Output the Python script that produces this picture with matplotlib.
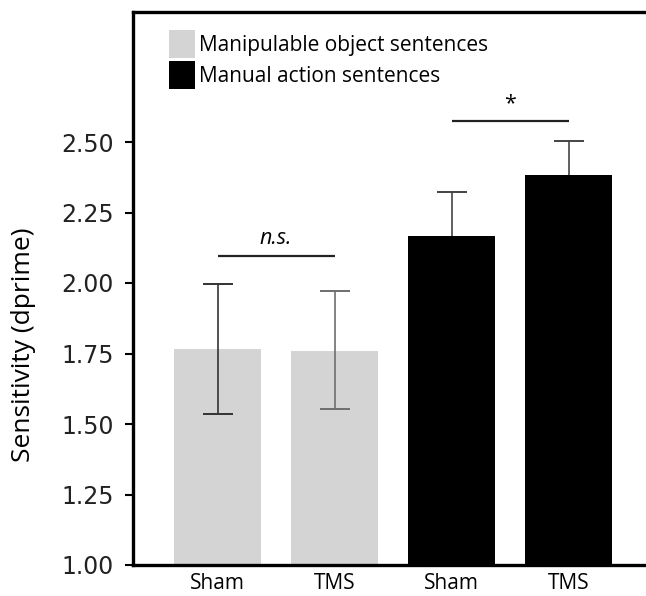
import matplotlib
matplotlib.use("Agg")
from matplotlib import pyplot as plt
from matplotlib.patches import Patch

# data
conditions = ["Sham", "TMS", "Sham", "TMS"]
groups = ["Manipulable object sentences", "Manual action sentences"]
means = [1.765, 1.760, 2.167, 2.383]
err_up = [0.232, 0.211, 0.157, 0.121]
err_down = [0.230, 0.207, 0.157, 0.121]
bar_colors = ["#d4d4d4", "#d4d4d4", "#000000", "#000000"]
err_colors = ["#333333", "#6e6e6e", "#444444", "#444444"]
y_ticks = [1.00, 1.25, 1.50, 1.75, 2.00, 2.25, 2.50]

# significance brackets: (left bar, right bar, height, label, italic)
sig = [(0, 1, 2.096, "n.s.", True), (2, 3, 2.573, "*", False)]

fig = plt.figure(figsize=(6.46, 5.96), dpi=100)
ax = fig.add_axes([133 / 646, 1 - 565 / 596, 1 - 133 / 646, 553 / 596])

x = list(range(len(means)))
ax.bar(x, means, width=0.75, bottom=0, color=bar_colors, zorder=1)
for xi, m, eu, ed, c, bc in zip(x, means, err_up, err_down, err_colors, bar_colors):
    # lower whisker is hidden inside the black bars
    z = 0.5 if bc == "#000000" else 2
    ax.errorbar(xi, m, yerr=[[ed], [eu]], fmt="none", ecolor=c,
                elinewidth=1.2, capsize=10.5, capthick=1.4, zorder=z)

for a, b, h, lab, ital in sig:
    ax.plot([a, b], [h, h], color="#222222", lw=1.6, solid_capstyle="butt")
    ax.text((a + b) / 2, h + 0.025, lab, ha="center", va="bottom",
            fontsize=15.5, family="Open Sans",
            style="italic" if ital else "normal")

ax.set_xlim((133 - 217.5) / 117, (646 - 217.5) / 117)
ax.set_ylim(1.0, 1 + 553 / 282)

ax.set_xticks(x)
ax.set_xticklabels(conditions, fontsize=15, family="Open Sans")
ax.tick_params(axis="x", length=0, pad=6)
ax.set_yticks(y_ticks)
ax.set_yticklabels([f"{v:.2f}" for v in y_ticks], fontsize=17,
                   family="DejaVu Sans", color="#222222")
ax.tick_params(axis="y", length=6, width=1.5, direction="out", pad=8)

for side in ["left", "bottom", "top"]:
    ax.spines[side].set_linewidth(2.4)
ax.spines["right"].set_visible(False)

ax.set_ylabel("Sensitivity (dprime)", fontsize=19, family="Open Sans")
ax.yaxis.set_label_coords(-0.19, 0.398)

handles = [Patch(facecolor="#d4d4d4", edgecolor="none"),
           Patch(facecolor="#000000", edgecolor="none")]
ax.legend(handles, groups, loc="upper left", bbox_to_anchor=(0.07, 0.967),
          frameon=False, prop={"family": "Open Sans", "size": 15},
          handlelength=1.25, handleheight=1.65, handletextpad=0.2,
          labelspacing=0.17, borderaxespad=0, borderpad=0)

plt.savefig("out.png", dpi=100)
plt.close(fig)
